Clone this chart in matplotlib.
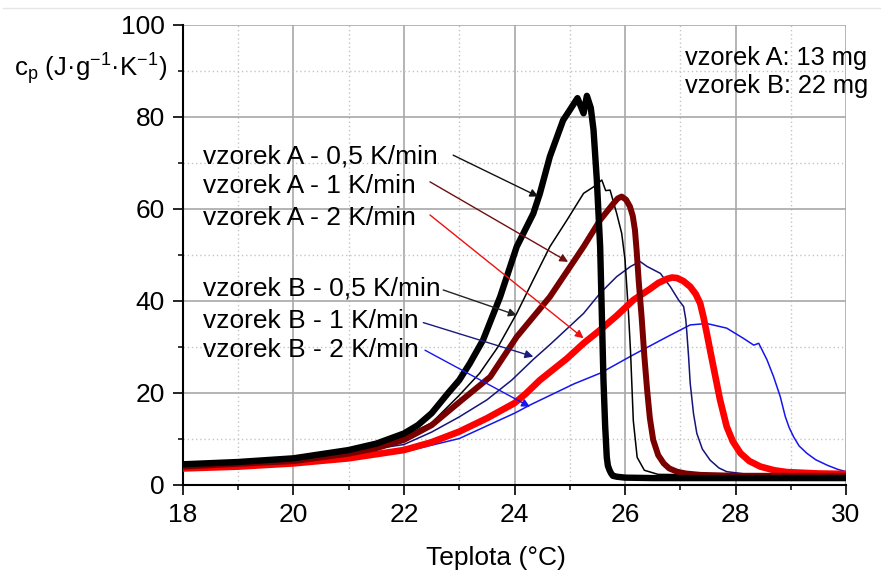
import matplotlib.pyplot as plt
from matplotlib.lines import Line2D
from matplotlib.ticker import MultipleLocator

plt.rcParams['font.family'] = ['Liberation Sans', 'DejaVu Sans']
plt.rcParams['mathtext.fontset'] = 'custom'
plt.rcParams['mathtext.rm'] = 'Liberation Sans'
plt.rcParams['mathtext.it'] = 'Liberation Sans'

# sample A, 0.5 K/min (thick black)
a05_x = [18, 19, 20, 21, 21.5, 22, 22.25, 22.5, 22.65, 22.8, 23.0, 23.19, 23.43, 23.74,
         24.04, 24.34, 24.46, 24.64, 24.88, 25.0, 25.14, 25.25, 25.31, 25.38, 25.43, 25.49,
         25.55, 25.58, 25.61, 25.64, 25.67, 25.69, 25.72, 25.75, 25.78, 25.85, 26.0, 26.5,
         28, 30]
a05_y = [4.5, 5.0, 5.8, 7.6, 9.0, 11.2, 13.0, 15.6, 17.8, 20.0, 22.8, 26.4, 31.5, 40.9,
         51.8, 59.0, 63.4, 71.4, 79.3, 81.5, 84.1, 80.8, 84.6, 82.0, 77.2, 66.3,
         51.8, 37.4, 22.8, 13.0, 6.0, 4.2, 3.2, 2.5, 2.0, 1.8, 1.6, 1.5,
         1.5, 1.5]

# sample A, 1 K/min (thick dark red)
a1_x = [18, 20, 21, 21.5, 22, 22.5, 23, 23.56, 24.04, 24.64, 25.25, 25.55, 25.79, 25.87,
        25.94, 26.02, 26.09, 26.14, 26.18, 26.21, 26.25, 26.30, 26.35, 26.40, 26.45, 26.51,
        26.6, 26.70, 26.8, 26.94, 27.1, 27.36, 28, 30]
a1_y = [4.0, 5.2, 6.8, 8.0, 9.8, 13.0, 18.0, 23.5, 32.2, 40.9, 51.8, 57.6, 61.2, 62.3,
        62.7, 62.0, 60.5, 58.5, 55.4, 51.0, 44.0, 36.6, 28.0, 20.7, 14.5, 9.8,
        6.5, 4.7, 3.6, 2.9, 2.5, 2.2, 2.0, 2.0]

# sample A, 2 K/min (thick red)
a2_x = [18, 19, 20, 21, 22, 22.5, 23, 23.5, 24, 24.2, 24.46, 24.95, 25.25, 25.55, 25.85,
        26.15, 26.45, 26.6, 26.76, 26.85, 26.94, 27.06, 27.18, 27.28, 27.36, 27.42, 27.48,
        27.54, 27.6, 27.72, 27.84, 27.95, 28.09, 28.25, 28.45, 28.7, 28.93, 29.5, 30]
a2_y = [3.6, 4.0, 4.7, 5.8, 7.6, 9.3, 11.6, 14.5, 17.8, 19.8, 22.8, 27.5, 30.8, 33.7, 36.8,
        40.2, 42.6, 43.9, 44.8, 45.1, 45.0, 44.3, 43.1, 41.5, 39.5, 36.5, 33.0,
        29.3, 25.7, 18.5, 12.7, 9.5, 6.9, 5.2, 4.0, 3.2, 2.8, 2.5, 2.4]

# sample B, 0.5 K/min (thin black)
b05_x = [18, 20, 21, 22, 22.5, 23, 23.37, 23.7, 24.04, 24.34, 24.64, 24.95, 25.25, 25.43,
         25.58, 25.65, 25.73, 25.85, 25.94, 26.0, 26.06, 26.1, 26.15, 26.22, 26.35, 26.6, 30]
b05_y = [4.3, 5.5, 7.0, 10.5, 13.5, 19.5, 24.3, 30.0, 37.3, 44.6, 51.8, 57.6, 63.4, 64.8,
         66.3, 64.0, 64.1, 59.0, 54.7, 49.0, 38.0, 29.0, 14.0, 6.0, 3.2, 2.3, 2.0]

# sample B, 1 K/min (thin navy)
b1_x = [18, 20, 22, 22.5, 23, 23.5, 23.95, 24.34, 24.64, 25.25, 25.55, 25.85, 26.1, 26.27,
        26.4, 26.64, 26.82, 26.97, 27.06, 27.1, 27.12, 27.15, 27.18, 27.24, 27.3, 27.4,
        27.54, 27.7, 27.84, 28.3, 30]
b1_y = [4.2, 5.2, 8.8, 11.5, 14.8, 18.5, 22.8, 27.3, 30.5, 37.3, 41.7, 45.3, 47.5, 48.6,
        47.5, 46.0, 43.1, 40.2, 38.8, 36.0, 33.0, 28.0, 22.1, 15.5, 11.2, 7.8,
        5.4, 3.7, 2.9, 2.2, 2.0]

# sample B, 2 K/min (thin blue)
b2_x = [18, 20, 22, 23, 24, 24.3, 25.08, 25.55, 26.15, 26.76, 27.18, 27.48, 27.84, 28.14,
        28.33, 28.42, 28.57, 28.69, 28.81, 28.9, 28.97, 29.05, 29.15, 29.29, 29.45, 29.66,
        29.85, 30.0]
b2_y = [4.2, 5.0, 7.2, 10.1, 15.6, 17.5, 22.0, 24.3, 28.3, 32.2, 34.8, 35.1, 34.1, 31.9,
        30.4, 30.8, 27.2, 23.5, 19.2, 14.9, 12.5, 10.5, 8.5, 6.9, 5.5, 4.3,
        3.4, 2.9]

labels = ['vzorek A - 0,5 K/min', 'vzorek A - 1 K/min', 'vzorek A - 2 K/min',
          'vzorek B - 0,5 K/min', 'vzorek B - 1 K/min', 'vzorek B - 2 K/min']
label_y = [69.8, 63.5, 56.5, 41.1, 34.1, 27.9]
arrow_start = [(22.89, 71.7), (22.47, 65.9), (22.47, 58.7),
               (22.71, 42.4), (22.35, 35.3), (22.38, 29.3)]
arrow_end = [(24.43, 62.7), (24.97, 48.5), (25.25, 31.9),
             (24.04, 36.9), (24.34, 27.9), (24.28, 17.0)]
arrow_colors = ['#111111', '#6e1010', '#ee1111', '#222222', '#1a1a80', '#1515ee']

fig = plt.figure(figsize=(8.81, 5.73), dpi=100)
ax = fig.add_axes([0.2077, 0.1536, 0.7526, 0.8028])

# grid
ax.xaxis.set_major_locator(MultipleLocator(2))
ax.xaxis.set_minor_locator(MultipleLocator(1))
ax.yaxis.set_major_locator(MultipleLocator(20))
ax.yaxis.set_minor_locator(MultipleLocator(10))
ax.grid(True, which='major', color='#a8a8a8', linewidth=1.2)
ax.grid(True, which='minor', color='#c4c4c4', linewidth=1.0, linestyle=(0, (1, 2)))
ax.set_axisbelow(True)

# curves: thin first, thick on top
line_kw = dict(solid_joinstyle='round', solid_capstyle='round')
ax.plot(b2_x, b2_y, color='#1515ee', linewidth=1.1, zorder=3, **line_kw)
ax.plot(b1_x, b1_y, color='#14147a', linewidth=1.1, zorder=3, **line_kw)
ax.plot(b05_x, b05_y, color='#000000', linewidth=1.1, zorder=3, **line_kw)
ax.plot(a2_x, a2_y, color='#ff0000', linewidth=4.8, zorder=4, **line_kw)
ax.plot(a1_x, a1_y, color='#7a0000', linewidth=4.3, zorder=4, **line_kw)
ax.plot(a05_x, a05_y, color='#000000', linewidth=4.6, zorder=5, **line_kw)

# labels with arrows
for lab, ly, st, en, c in zip(labels, label_y, arrow_start, arrow_end, arrow_colors):
    ax.text(18.36, ly, lab, fontsize=19, va='baseline', ha='left', zorder=6)
    ax.annotate('', xy=en, xytext=st,
                arrowprops=dict(arrowstyle='-|>', color=c, lw=1.0,
                                mutation_scale=12, shrinkA=0, shrinkB=0), zorder=6)

ax.set_xlim(18, 30)
ax.set_ylim(0, 100)
ax.spines[['top', 'right']].set_visible(False)
ax.spines[['left', 'bottom']].set_linewidth(1.5)
ax.tick_params(which='major', direction='out', length=7.2, width=1.2, labelsize=19, pad=6)
ax.tick_params(which='minor', direction='out', length=3.6, width=1.1)

fig.text(495.5 / 881, 1 - 565 / 573, 'Teplota (°C)', fontsize=19, ha='center', va='baseline')
fig.text(14 / 881, 1 - 76.7 / 573,
         r'c$_\mathregular{p}$ (J·g$^\mathregular{-1}$·K$^\mathregular{-1}$)',
         fontsize=18.5, ha='left', va='baseline')
fig.text(685 / 881, 1 - 65 / 573, 'vzorek A: 13 mg', fontsize=18.3, ha='left', va='baseline')
fig.text(685 / 881, 1 - 93.3 / 573, 'vzorek B: 22 mg', fontsize=18.3, ha='left', va='baseline')

# faint line along the top edge
fig.add_artist(Line2D([0.003, 1.0], [1 - 8 / 573] * 2, color='#e6e6e6', linewidth=1))

fig.savefig('out.png', dpi=100)
